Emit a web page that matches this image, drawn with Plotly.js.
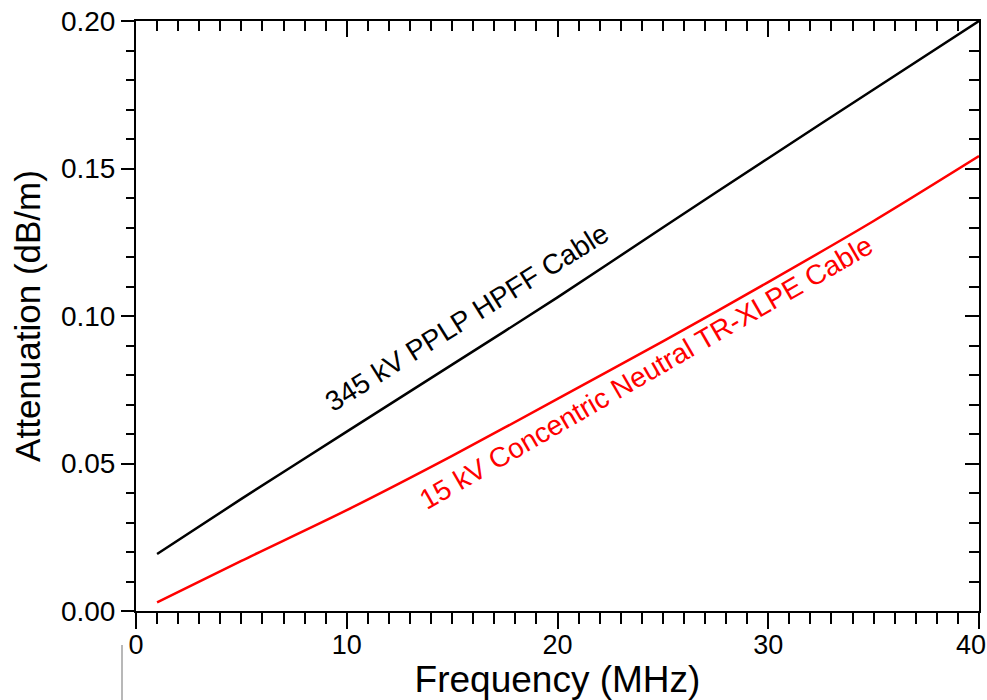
<!DOCTYPE html>
<html>
<head>
<meta charset="utf-8">
<script src="https://cdn.plot.ly/plotly-3.0.1.min.js"></script>
<style>html,body{margin:0;padding:0;background:#fff;}#chart{width:987px;height:700px;}</style>
</head>
<body>
<div id="chart"></div>
<script>
// Frequency (MHz)
const freqMHz = [1, 5, 10, 15, 20, 25, 30, 35, 40];
// 345 kV PPLP HPFF Cable attenuation (dB/m)
const hpffAtten = [0.0193, 0.0380, 0.0608, 0.0835, 0.1063, 0.1300, 0.1535, 0.1768, 0.2000];
// 15 kV Concentric Neutral TR-XLPE Cable attenuation (dB/m)
const xlpeAtten = [0.0029, 0.0170, 0.0342, 0.0526, 0.0719, 0.0914, 0.1115, 0.1322, 0.1542];

// x-axis tick labels
const xTickVals = [0, 10, 20, 30, 40];
const xTickText = ["0", "10", "20", "30", "40"];

const hpffLabel = "345 kV PPLP HPFF Cable";
const xlpeLabel = "15 kV Concentric Neutral TR-XLPE Cable";
const xTitle = "Frequency (MHz)";
const yTitle = "Attenuation (dB/m)";

const FONT = "Liberation Sans, Arial, Helvetica, sans-serif";

const traces = [
  {x: freqMHz, y: hpffAtten, xaxis: 'x', yaxis: 'y', mode: 'lines', line: {color: '#000000', width: 2.5, shape: 'spline', smoothing: 0.6}, hoverinfo: 'skip', showlegend: false},
  {x: freqMHz, y: xlpeAtten, xaxis: 'x2', yaxis: 'y2', mode: 'lines', line: {color: '#ff0000', width: 2.5, shape: 'spline', smoothing: 0.8}, hoverinfo: 'skip', showlegend: false}
];

const baseX = {
  range: [0, 40], dtick: 10, tick0: 0, showgrid: false, zeroline: false,
  showline: true, linecolor: '#000', linewidth: 2,
  tickcolor: '#000', tickwidth: 2,
  minor: {dtick: 1, tick0: 0, tickcolor: '#000', tickwidth: 2, showgrid: false}
};
const baseY = {
  range: [0, 0.2], dtick: 0.05, tick0: 0, showgrid: false, zeroline: false,
  showline: true, linecolor: '#000', linewidth: 2,
  tickcolor: '#000', tickwidth: 2,
  minor: {dtick: 0.01, tick0: 0, tickcolor: '#000', tickwidth: 2, showgrid: false}
};

// the last x tick label is drawn as an annotation so it can sit inside the page edge
const lastIdx = xTickVals.length - 1;
const axisTickText = xTickText.map((t, i) => i === lastIdx ? "" : t);

const layout = {
  width: 987, height: 700,
  margin: {l: 136, r: 8, t: 21, b: 89},
  paper_bgcolor: '#fff', plot_bgcolor: '#fff',
  font: {family: FONT, color: '#000', size: 28},
  showlegend: false,
  xaxis: Object.assign({}, baseX, {
    side: 'bottom', ticks: 'outside', ticklen: 16, ticklabeloverflow: 'allow',
    tickmode: 'array', tickvals: xTickVals, ticktext: axisTickText,
    ticklabelstandoff: -7,
    minor: Object.assign({}, baseX.minor, {ticks: 'outside', ticklen: 11}),
    tickfont: {family: FONT, size: 27, color: '#000'},
    title: {text: xTitle, font: {family: FONT, size: 37, color: '#000'}, standoff: 6}
  }),
  yaxis: Object.assign({}, baseY, {
    side: 'left', ticks: 'outside', ticklen: 13, tickformat: '.2f', ticklabeloverflow: 'allow',
    minor: Object.assign({}, baseY.minor, {ticks: 'outside', ticklen: 8}),
    tickfont: {family: FONT, size: 28, color: '#000'},
    title: {text: yTitle, font: {family: FONT, size: 35, color: '#000'}, standoff: 10}
  }),
  xaxis2: Object.assign({}, baseX, {
    overlaying: 'x', side: 'top', ticks: 'inside', ticklen: 16, showticklabels: false,
    minor: Object.assign({}, baseX.minor, {ticks: 'inside', ticklen: 10}),
    anchor: 'y2'
  }),
  yaxis2: Object.assign({}, baseY, {
    overlaying: 'y', side: 'right', ticks: 'inside', ticklen: 14, showticklabels: false,
    minor: Object.assign({}, baseY.minor, {ticks: 'inside', ticklen: 10}),
    anchor: 'x2'
  }),
  annotations: [
    {x: 15.7, y: 0.0995, xref: 'x', yref: 'y', text: hpffLabel, showarrow: false, textangle: -32,
     font: {family: FONT, size: 28, color: '#000'}},
    {x: 24.2, y: 0.081, xref: 'x', yref: 'y', text: xlpeLabel, showarrow: false, textangle: -30,
     font: {family: FONT, size: 28, color: '#ff0000'}},
    {x: xTickVals[lastIdx], y: 0, xref: 'x', yref: 'paper', text: xTickText[lastIdx], showarrow: false,
     xanchor: 'center', yanchor: 'top', xshift: -8, yshift: -18, borderpad: 0,
     font: {family: FONT, size: 27, color: '#000'}}
  ],
  shapes: [
    {type: 'line', xref: 'paper', yref: 'paper', x0: -0.0166, x1: -0.0166, y0: -0.0576, y1: -0.151,
     line: {color: '#b8b8b8', width: 2}}
  ]
};

Plotly.newPlot('chart', traces, layout, {staticPlot: true, displayModeBar: false});
</script>
</body>
</html>
